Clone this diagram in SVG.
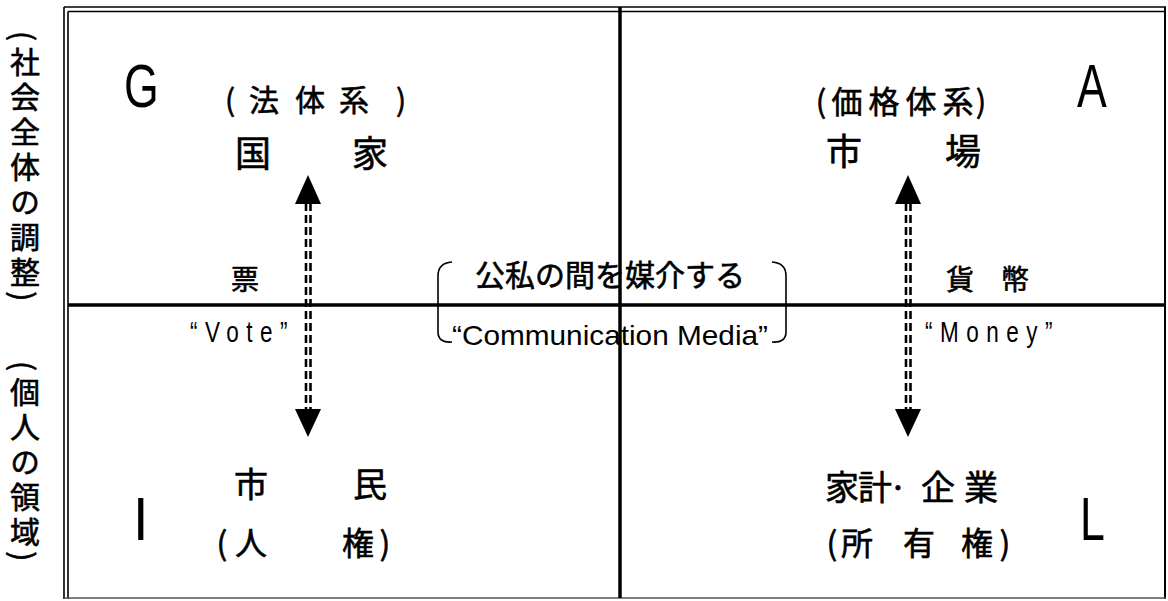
<svg xmlns="http://www.w3.org/2000/svg" width="1168" height="601" viewBox="0 0 1168 601">
<style>
.jp{font-family:"Noto Sans CJK JP","Noto Sans",sans-serif;font-weight:400;fill:#000;stroke:#000;stroke-width:0.6}
.lt{font-family:"Liberation Sans",Arial,sans-serif;fill:#000}
.big{font-family:"Liberation Sans",Arial,sans-serif;font-size:62px;fill:#000}
.frame{stroke:#000;fill:none}
.dash{stroke:#000;stroke-width:2.6;stroke-dasharray:8 4;fill:none}
.br{stroke:#000;stroke-width:1.6;fill:none}
</style>
<rect width="1168" height="601" fill="#fff"/>
<g id="frame">
<line class="frame" x1="64" y1="7" x2="1166" y2="7" stroke-width="1.6"/>
<line class="frame" x1="68" y1="11.5" x2="1166" y2="11.5" stroke-width="1.6"/>
<line class="frame" x1="64" y1="7" x2="64" y2="599" stroke-width="1.6"/>
<line class="frame" x1="68" y1="11.5" x2="68" y2="599" stroke-width="1.6"/>
<line class="frame" x1="1165" y1="7" x2="1165" y2="599" stroke-width="2"/>
<line x1="64" y1="598" x2="1166" y2="598" stroke="#555" stroke-width="1.5"/>
<line class="frame" x1="68" y1="305" x2="1165" y2="305" stroke-width="3.5"/>
<line class="frame" x1="620" y1="7" x2="620" y2="598" stroke-width="3.5"/>
</g>
<g id="side-labels">
<text class="jp" x="25" y="31" font-size="30" writing-mode="vertical-rl" letter-spacing="5">(社会全体の調整)</text>
<text class="jp" x="25" y="361" font-size="30" writing-mode="vertical-rl" letter-spacing="5">(個人の領域)</text>
</g>
<g id="G">
<text class="big" transform="translate(124,107) scale(0.72,1)">G</text>
<text class="jp" font-size="30" y="111" text-anchor="middle" x="230 264 310 354 401">(法体系)</text>
<text class="jp" font-size="36" y="167" text-anchor="middle" x="253 370">国家</text>
</g>
<g id="A">
<text class="big" transform="translate(1077,107) scale(0.72,1)">A</text>
<text class="jp" font-size="31" y="113" text-anchor="middle" x="821 847 884 921 958 981">(価格体系)</text>
<text class="jp" font-size="36" y="165" text-anchor="middle" x="844 963">市場</text>
</g>
<g id="I">
<text class="big" transform="translate(133,540) scale(0.9,1)">I</text>
<text class="jp" font-size="34" y="497" text-anchor="middle" x="251 370">市民</text>
<text class="jp" font-size="32" y="555" text-anchor="middle" x="222 251 358 385">(人権)</text>
</g>
<g id="L">
<text class="big" transform="translate(1080,540) scale(0.72,1)">L</text>
<text class="jp" font-size="34" y="500" text-anchor="middle" x="842 875 898 938 981">家計·企業</text>
<text class="jp" font-size="32" y="555" text-anchor="middle" x="832 857 919 977 1005">(所有権)</text>
</g>
<g id="center">
<text class="jp" font-size="30" x="475" y="286">公私の間を媒介する</text>
<text class="lt" font-size="28" x="452" y="345" textLength="316" lengthAdjust="spacingAndGlyphs">“Communication Media”</text>
<path class="br" d="M452,262 Q438,263 438,276 L438,332 Q438,343 452,342"/>
<path class="br" d="M772,262 Q786,263 786,276 L786,332 Q786,343 772,342"/>
</g>
<g id="labels">
<text class="jp" font-size="28" y="290" text-anchor="middle" x="245">票</text>
<text class="lt" font-size="30" transform="translate(190,342) scale(0.75,1)" letter-spacing="10">“Vote”</text>
<text class="jp" font-size="28" y="290" text-anchor="middle" x="960 1015">貨幣</text>
<text class="lt" font-size="30" transform="translate(925,342) scale(0.75,1)" letter-spacing="10">“Money”</text>
</g>
<g id="connectors">
<line class="dash" x1="306" y1="203" x2="306" y2="410"/>
<line class="dash" x1="310.5" y1="203" x2="310.5" y2="410"/>
<polygon points="308,175 295,204 321,204"/>
<polygon points="308,437 295,409 321,409"/>
<line class="dash" x1="906" y1="203" x2="906" y2="410"/>
<line class="dash" x1="910.5" y1="203" x2="910.5" y2="410"/>
<polygon points="908,175 895,204 921,204"/>
<polygon points="908,437 895,409 921,409"/>
</g>
</svg>
